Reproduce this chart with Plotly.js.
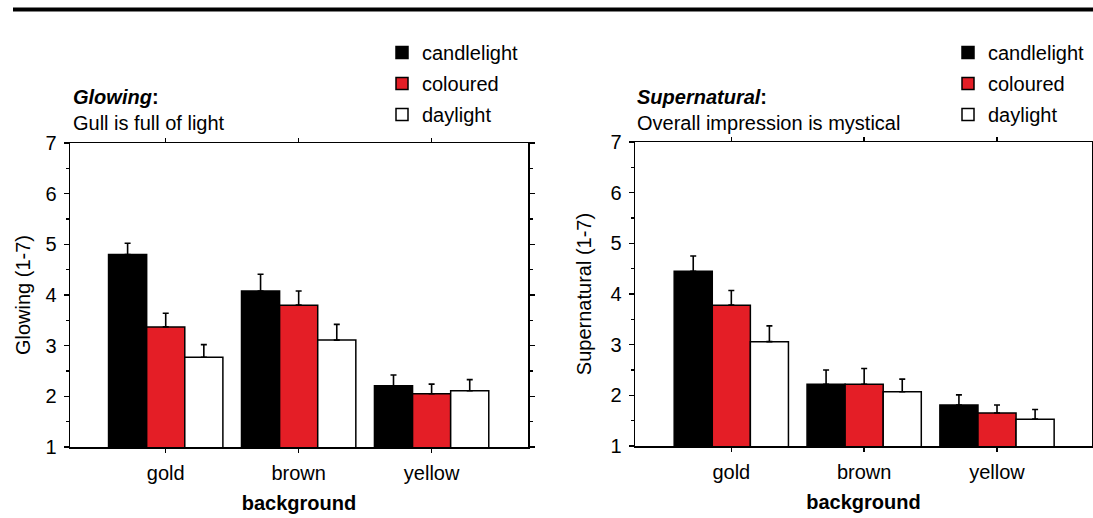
<!DOCTYPE html>
<html>
<head>
<meta charset="utf-8">
<script src="https://cdn.plot.ly/plotly-3.0.1.min.js"></script>
<style>html,body{margin:0;padding:0;background:#fff;}#chart{width:1093px;height:518px;}</style>
</head>
<body>
<div id="chart"></div>
<script>
// ---- data ----
const categories = ['gold', 'brown', 'yellow'];
const seriesNames = ['candlelight', 'coloured', 'daylight'];
const seriesColors = ['#000000', '#e41e26', '#ffffff'];

// Glowing (1-7)
const glowCandle = [4.80, 4.08, 2.21];
const glowCandleErr = [0.22, 0.33, 0.21];
const glowColoured = [3.37, 3.80, 2.05];
const glowColouredErr = [0.27, 0.28, 0.19];
const glowDaylight = [2.77, 3.11, 2.11];
const glowDaylightErr = [0.25, 0.31, 0.22];

// Supernatural (1-7)
const superCandle = [4.45, 2.22, 1.81];
const superCandleErr = [0.30, 0.28, 0.20];
const superColoured = [3.78, 2.22, 1.65];
const superColouredErr = [0.29, 0.31, 0.16];
const superDaylight = [3.06, 2.07, 1.53];
const superDaylightErr = [0.31, 0.25, 0.19];

const yTickVals = [1, 2, 3, 4, 5, 6, 7];

// ---- build ----
const W = 1093, H = 518;
const FONT = 'Liberation Sans, Arial, Helvetica, sans-serif';
const FS = 20;
const px = v => v / W;
const py = v => 1 - v / H;

function barTrace(name, color, y, err, xa, ya, legend, group) {
  return {
    type: 'bar', name: name, x: categories, y: y,
    xaxis: xa, yaxis: ya, legend: legend, legendgroup: group,
    marker: {color: color, line: {color: '#000', width: 1.5}},
    error_y: {type: 'data', array: err, arrayminus: err.map(() => 0), symmetric: false,
              color: '#000', thickness: 1.6, width: 3},
    hoverinfo: 'x+y+name'
  };
}

const glow = [glowCandle, glowColoured, glowDaylight];
const glowErr = [glowCandleErr, glowColouredErr, glowDaylightErr];
const sup = [superCandle, superColoured, superDaylight];
const supErr = [superCandleErr, superColouredErr, superDaylightErr];

const traces = [];
for (let i = 0; i < 3; i++) traces.push(barTrace(seriesNames[i], seriesColors[i], glow[i], glowErr[i], 'x', 'y', 'legend', 'g' + i));
for (let i = 0; i < 3; i++) traces.push(barTrace(seriesNames[i], seriesColors[i], sup[i], supErr[i], 'x2', 'y2', 'legend2', 's' + i));

function xAxis(domain, range, anchor, standoff) {
  return {
    domain: domain, range: range, anchor: anchor, type: 'category',
    showline: true, linecolor: '#000', linewidth: 1.5, mirror: 'ticks',
    ticks: 'outside', ticklen: 4, tickwidth: 1.5, tickcolor: '#000',
    tickfont: {family: FONT, size: FS, color: '#000'}, ticklabelstandoff: 3,
    showgrid: false, zeroline: false, fixedrange: true,
    title: {text: '<b>background</b>', font: {family: FONT, size: FS, color: '#000'}, standoff: standoff}
  };
}
function yAxis(domain, anchor, title, standoff) {
  return {
    domain: domain, range: [1, 7], anchor: anchor,
    tickmode: 'array', tickvals: yTickVals, ticktext: yTickVals.map(String),
    showline: true, linecolor: '#000', linewidth: 1.5, mirror: 'ticks',
    ticks: 'outside', ticklen: 5, tickwidth: 1.5, tickcolor: '#000',
    minor: {dtick: 0.5, tick0: 1, ticks: 'outside', ticklen: 3, tickwidth: 1.2, tickcolor: '#000', showgrid: false},
    tickfont: {family: FONT, size: FS, color: '#000'}, ticklabelstandoff: 3,
    showgrid: false, zeroline: false, fixedrange: true,
    title: {text: title, font: {family: FONT, size: FS, color: '#000'}, standoff: standoff}
  };
}

const legendBase = {
  font: {family: FONT, size: FS, color: '#000'}, bgcolor: 'rgba(0,0,0,0)',
  xanchor: 'left', yanchor: 'top', tracegroupgap: 2, traceorder: 'grouped', orientation: 'v'
};

const layout = {
  width: W, height: H,
  margin: {l: 0, r: 0, t: 0, b: 0},
  paper_bgcolor: '#fff', plot_bgcolor: '#fff',
  font: {family: FONT, size: FS, color: '#000'},
  barmode: 'group', bargap: 0.14, bargroupgap: 0,
  showlegend: true,
  xaxis: xAxis([px(70), px(528)], [-0.72, 2.725], 'y', 13),
  yaxis: yAxis([py(447), py(143)], 'x', 'Glowing (1-7)', 9),
  xaxis2: xAxis([px(635), px(1092)], [-0.725, 2.715], 'y2', 13),
  yaxis2: yAxis([py(446), py(142)], 'x2', 'Supernatural (1-7)', 13),
  legend: Object.assign({}, legendBase, {x: px(382), y: py(33)}),
  legend2: Object.assign({}, legendBase, {x: px(948), y: py(33)}),
  shapes: [
    {type: 'line', xref: 'paper', yref: 'paper', x0: px(13), x1: 1, y0: py(9.5), y1: py(9.5),
     line: {color: '#000', width: 4}}
  ],
  annotations: [
    {xref: 'paper', yref: 'paper', x: px(71), y: py(97), xanchor: 'left', yanchor: 'middle', showarrow: false,
     text: '<b><i>Glowing</i>:</b>', font: {family: FONT, size: FS, color: '#000'}},
    {xref: 'paper', yref: 'paper', x: px(71), y: py(123), xanchor: 'left', yanchor: 'middle', showarrow: false,
     text: 'Gull is full of light', font: {family: FONT, size: FS, color: '#000'}},
    {xref: 'paper', yref: 'paper', x: px(635), y: py(97), xanchor: 'left', yanchor: 'middle', showarrow: false,
     text: '<b><i>Supernatural</i>:</b>', font: {family: FONT, size: FS, color: '#000'}},
    {xref: 'paper', yref: 'paper', x: px(635), y: py(123), xanchor: 'left', yanchor: 'middle', showarrow: false,
     text: 'Overall impression is mystical', font: {family: FONT, size: FS, color: '#000'}}
  ]
};

Plotly.newPlot('chart', traces, layout, {displayModeBar: false, staticPlot: true});
</script>
</body>
</html>
